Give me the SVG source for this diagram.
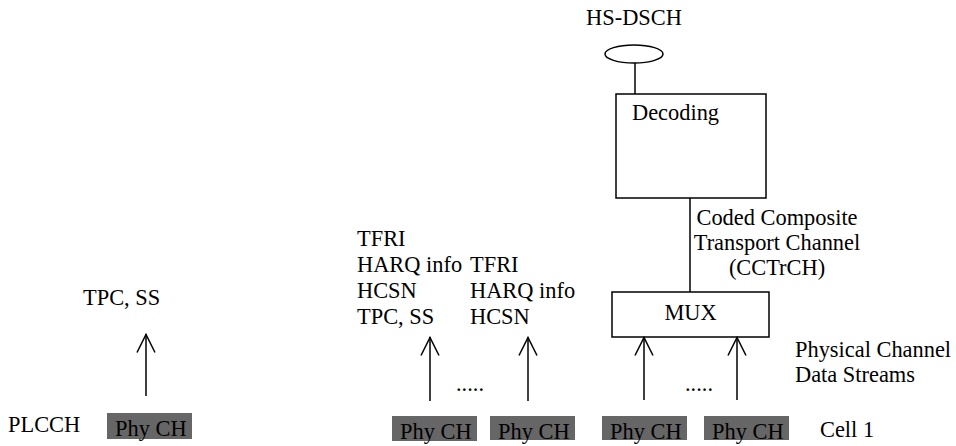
<svg xmlns="http://www.w3.org/2000/svg" width="956" height="446" viewBox="0 0 956 446">
<style>
text{font-family:"Liberation Serif","Times New Roman",serif;font-size:22.4px;fill:#000}
.box{fill:#fff;stroke:#000;stroke-width:1.5}
.phy{fill:#666;stroke:none}
.ln{stroke:#000;stroke-width:1.5;fill:none}
.arr{stroke:#000;stroke-width:1.5;fill:none;marker-end:url(#ah)}
</style>
<defs>
<marker id="ah" viewBox="-1 -10 21 20" markerWidth="21" markerHeight="20" refX="18.5" refY="0" orient="auto" markerUnits="userSpaceOnUse">
<path d="M0,-9 L18,0 L0,9" fill="none" stroke="#000" stroke-width="1.5"/>
</marker>
</defs>
<rect width="956" height="446" fill="#fff"/>

<g id="hs-dsch">
<text x="634" y="25" text-anchor="middle">HS-DSCH</text>
<ellipse cx="634" cy="54" rx="29" ry="9" class="box"/>
</g>

<g id="decoding">
<rect x="616" y="94" width="150" height="104" class="box"/>
<text x="632" y="120">Decoding</text>
</g>

<g id="mux">
<rect x="612" y="292" width="157" height="45" class="box"/>
<text x="690.5" y="320" text-anchor="middle">MUX</text>
</g>

<g id="cctrch-label">
<text x="777" y="225" text-anchor="middle">Coded Composite</text>
<text x="777" y="250" text-anchor="middle">Transport Channel</text>
<text x="777" y="275" text-anchor="middle">(CCTrCH)</text>
</g>

<g id="plcch-label"><text x="8" y="432">PLCCH</text></g>
<g id="tpc-ss-label"><text x="83" y="305">TPC, SS</text></g>

<g id="info-left">
<text x="357" y="246">TFRI</text>
<text x="357" y="272">HARQ info</text>
<text x="357" y="298">HCSN</text>
<text x="357" y="324">TPC, SS</text>
</g>
<g id="info-right">
<text x="470" y="272">TFRI</text>
<text x="470" y="298">HARQ info</text>
<text x="470" y="324">HCSN</text>
</g>

<g id="phy-streams-label">
<text x="795" y="357">Physical Channel</text>
<text x="795" y="382">Data Streams</text>
</g>
<g id="cell1-label"><text x="820" y="437">Cell 1</text></g>

<g id="phy0"><rect x="107" y="413" width="85" height="26" class="phy"/><text x="115" y="436">Phy CH</text></g>
<g id="phy1"><rect x="392" y="416" width="85" height="25" class="phy"/><text x="400" y="439">Phy CH</text></g>
<g id="phy2"><rect x="490" y="416" width="85" height="24" class="phy"/><text x="498" y="439">Phy CH</text></g>
<g id="phy3"><rect x="602" y="416" width="85" height="24" class="phy"/><text x="610" y="439">Phy CH</text></g>
<g id="phy4"><rect x="704" y="416" width="85" height="24" class="phy"/><text x="712" y="439">Phy CH</text></g>

<g id="dots">
<text x="456" y="391">.....</text>
<text x="685" y="391">.....</text>
</g>

<g id="connectors">
<line x1="635" y1="63" x2="635" y2="94" class="ln"/>
<line x1="690" y1="198" x2="690" y2="292" class="ln"/>
<line x1="146" y1="396" x2="146" y2="334" class="arr"/>
<line x1="430" y1="401" x2="430" y2="337" class="arr"/>
<line x1="528" y1="401" x2="528" y2="337" class="arr"/>
<line x1="644" y1="400" x2="644" y2="337" class="arr"/>
<line x1="737" y1="400" x2="737" y2="337" class="arr"/>
</g>
</svg>
